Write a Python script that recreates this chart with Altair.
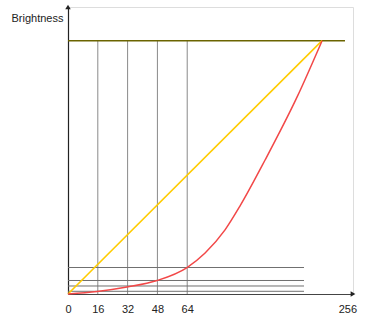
import altair as alt
import pandas as pd

# tick values on the x axis (in drawing units) and their labels
tick_values = [0, 16, 32, 48, 64, 150]
tick_labels = ["0", "16", "32", "48", "64", "256"]

# vertical guide lines
guide_x = [16, 32, 48, 64]
# horizontal guide levels (red curve values at the guide lines)
guide_levels = [0.0107, 0.0316, 0.0533, 0.1046]
guide_end = 126.7

# top (max brightness) line
top_level = 1.0
top_end = 148.7

# linear (yellow) line
lin_x = [0, 136.4]
lin_y = [0, 1.0]

# gamma (red) curve
red_x = [0, 15.6, 31.7, 47.8, 63.9, 73.6, 84.3, 92.3, 105.8, 123.0, 136.4]
red_y = [0, 0.0099, 0.0276, 0.0533, 0.1046, 0.162, 0.253, 0.347, 0.529, 0.778, 1.0]

X_MAX = 153
Y_MAX = 1.133

xs = alt.Scale(domain=[0, X_MAX], nice=False, zero=False)
ys = alt.Scale(domain=[0, Y_MAX], nice=False, zero=False)

label_map = "{" + ",".join(f"'{v}':'{l}'" for v, l in zip(tick_values, tick_labels)) + "}"

x_axis = alt.Axis(
    values=tick_values,
    labelExpr=f"{label_map}[''+datum.value]",
    grid=False, ticks=False, domainColor="#444", domainWidth=1.2,
    labelFont="Liberation Sans", labelFontSize=11, labelColor="#222",
    labelPadding=9, title=None, labelFlush=False,
)
y_axis = alt.Axis(
    labels=False, ticks=False, grid=False, domainColor="#222", domainWidth=1.2,
    title="Brightness", titleAngle=0, titleAlign="right", titleBaseline="middle",
    titleX=-5, titleY=11, titleFont="Liberation Sans", titleFontSize=11,
    titleFontWeight="normal", titleColor="#222",
)

vdf = pd.DataFrame({"x": guide_x, "y": 0.0, "y2": top_level})
vert = alt.Chart(vdf).mark_rule(color="#8a8a8a", strokeWidth=1).encode(
    x=alt.X("x:Q", scale=xs, axis=x_axis),
    y=alt.Y("y:Q", scale=ys, axis=y_axis),
    y2="y2:Q",
)

hdf = pd.DataFrame({"y": guide_levels, "x": 0.0, "x2": guide_end})
horiz = alt.Chart(hdf).mark_rule(color="#707070", strokeWidth=1).encode(
    x=alt.X("x:Q", scale=xs), x2="x2:Q", y=alt.Y("y:Q", scale=ys)
)

tdf = pd.DataFrame({"y": [top_level], "x": [0.0], "x2": [top_end]})
top = alt.Chart(tdf).mark_rule(color="#6b6400", strokeWidth=1.6).encode(
    x=alt.X("x:Q", scale=xs), x2="x2:Q", y=alt.Y("y:Q", scale=ys)
)

ldf = pd.DataFrame({"x": lin_x, "y": lin_y})
lin = alt.Chart(ldf).mark_line(color="#FFCC00", strokeWidth=1.6).encode(
    x=alt.X("x:Q", scale=xs), y=alt.Y("y:Q", scale=ys)
)

rdf = pd.DataFrame({"x": red_x, "y": red_y})
red = alt.Chart(rdf).mark_line(color="#F24848", strokeWidth=1.5, interpolate="monotone").encode(
    x=alt.X("x:Q", scale=xs), y=alt.Y("y:Q", scale=ys)
)

adf_x = pd.DataFrame({"x": [X_MAX], "y": [0.0]})
arrow_x = alt.Chart(adf_x).mark_point(shape="triangle-right", filled=True, color="#222", size=30, opacity=1).encode(
    x=alt.X("x:Q", scale=xs), y=alt.Y("y:Q", scale=ys)
)
adf_y = pd.DataFrame({"x": [0.0], "y": [Y_MAX]})
arrow_y = alt.Chart(adf_y).mark_point(shape="triangle-up", filled=True, color="#222", size=30, opacity=1).encode(
    x=alt.X("x:Q", scale=xs), y=alt.Y("y:Q", scale=ys)
)

chart = alt.layer(vert, horiz, top, lin, red, arrow_x, arrow_y).properties(
    width=285, height=287,
    autosize=alt.AutoSizeParams(type="none"),
    padding={"left": 68, "top": 7, "right": 20, "bottom": 28},
).configure_view(stroke=None).configure(background="white")

chart.save("out.html", embed_options={"renderer": "svg", "actions": False})
